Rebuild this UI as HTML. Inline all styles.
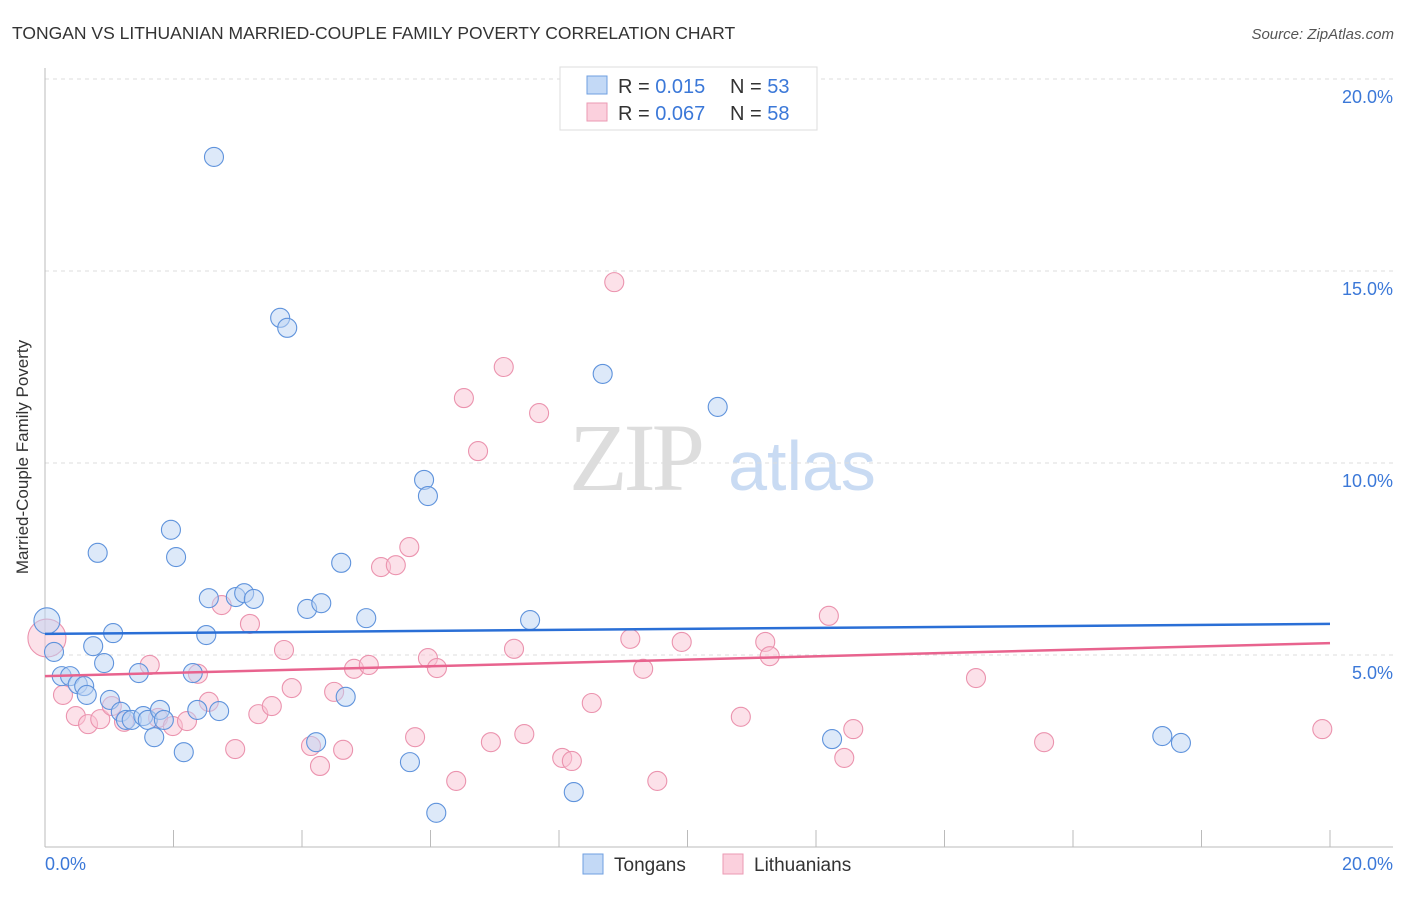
<!DOCTYPE html>
<html><head><meta charset="utf-8"><style>
body{margin:0;background:#fff;font-family:"Liberation Sans",sans-serif;}
</style></head><body>
<svg width="1406" height="892" xmlns="http://www.w3.org/2000/svg">
<text x="12" y="39" font-size="17.5" fill="#333">TONGAN VS LITHUANIAN MARRIED-COUPLE FAMILY POVERTY CORRELATION CHART</text>
<text x="1394" y="39" font-size="15" fill="#555" font-style="italic" text-anchor="end">Source: ZipAtlas.com</text>
<g>
<text x="635" y="490" font-size="96" fill="#ddd" font-family="Liberation Serif,serif" text-anchor="middle" letter-spacing="-4">ZIP</text>
<text x="802" y="490" font-size="70" fill="#c9dbf3" text-anchor="middle">atlas</text>
</g>
<g id="grid"></g>
<line x1="45" y1="68" x2="45" y2="847" stroke="#bbb"/>
<line x1="45" y1="847" x2="1393" y2="847" stroke="#bbb"/>
<text x="28" y="457" font-size="17" fill="#333" text-anchor="middle" transform="rotate(-90 28 457)">Married-Couple Family Poverty</text>
<text x="45" y="870" font-size="18" fill="#3b78d8">0.0%</text>
<text x="1393" y="870" font-size="18" fill="#3b78d8" text-anchor="end">20.0%</text>
<g id="pts"></g>
<g id="trends"></g>
<g>
<rect x="560" y="67" width="257" height="63" fill="#fff" stroke="#ddd"/>
<rect x="587" y="76" width="20" height="18" fill="#c3d9f6" stroke="#6f9fe0"/>
<rect x="587" y="103" width="20" height="18" fill="#fbd0dd" stroke="#eb9ab3"/>
<text x="618" y="93" font-size="20" fill="#333">R = <tspan fill="#3b78d8">0.015</tspan><tspan x="730">N = </tspan><tspan fill="#3b78d8">53</tspan></text>
<text x="618" y="120" font-size="20" fill="#333">R = <tspan fill="#3b78d8">0.067</tspan><tspan x="730">N = </tspan><tspan fill="#3b78d8">58</tspan></text>
</g>
<g>
<rect x="583" y="854" width="20" height="20" fill="#c3d9f6" stroke="#6f9fe0"/>
<text x="614" y="871" font-size="19" fill="#333">Tongans</text>
<rect x="723" y="854" width="20" height="20" fill="#fbd0dd" stroke="#eb9ab3"/>
<text x="754" y="871" font-size="19" fill="#333">Lithuanians</text>
</g>
</svg>
<script>
const yTicks=[5,10,15,20];
const xTicks=[2,4,6,8,10,12,14,16,18,20];
const tonganX=[0.03,0.14,0.26,0.39,0.51,0.61,0.65,0.75,0.82,0.92,1.01,1.06,1.18,1.26,1.35,1.46,1.53,1.60,1.70,1.79,1.85,1.96,2.04,2.16,2.30,2.37,2.51,2.55,2.71,2.63,2.97,3.10,3.25,3.66,3.77,4.08,4.22,4.30,4.61,4.68,5.00,5.68,5.90,5.96,6.09,7.55,8.23,8.68,10.47,12.25,17.39,17.68];
const tonganY=[5.89,5.08,4.45,4.45,4.24,4.19,3.96,5.23,7.66,4.79,3.83,5.57,3.52,3.31,3.31,4.53,3.41,3.31,2.86,3.57,3.31,8.26,7.55,2.47,4.53,3.57,5.52,6.48,3.54,17.97,6.51,6.61,6.46,13.78,13.52,6.20,2.73,6.35,7.40,3.91,5.96,2.21,9.56,9.14,0.89,5.91,1.43,12.32,11.46,2.81,2.89,2.71];
const lithX=[0.03,0.28,0.48,0.67,0.86,1.04,1.23,1.63,1.76,1.99,2.21,2.38,2.55,2.75,2.96,3.19,3.32,3.53,3.72,3.84,4.14,4.28,4.50,4.64,4.81,5.04,5.23,5.46,5.67,5.76,5.96,6.10,6.40,6.52,6.74,6.94,7.14,7.30,7.46,7.69,8.05,8.20,8.51,8.86,9.11,9.31,9.53,9.91,10.83,11.21,11.28,12.20,12.44,12.58,14.49,15.55,19.88];
const lithY=[5.44,3.96,3.41,3.20,3.33,3.67,3.26,4.74,3.36,3.15,3.28,4.51,3.78,6.30,2.55,5.81,3.46,3.67,5.13,4.14,2.63,2.11,4.04,2.53,4.64,4.74,7.29,7.34,7.81,2.86,4.92,4.66,1.72,11.69,10.31,2.73,12.50,5.16,2.94,11.30,2.32,2.24,3.75,14.71,5.42,4.64,1.72,5.34,3.39,5.34,4.97,6.02,2.32,3.07,4.40,2.73,3.07];
const tonganTrend=[5.55,5.81];
const lithTrend=[4.45,5.31];
const NS='http://www.w3.org/2000/svg';
const sx=v=>45+v*64.25, sy=v=>847-v*38.4;
function mk(t,a,p){const e=document.createElementNS(NS,t);for(const k in a)e.setAttribute(k,a[k]);p.appendChild(e);return e;}
const grid=document.getElementById('grid');
yTicks.forEach(t=>{
 const l=mk('line',{x1:45,x2:1393,y1:sy(t),y2:sy(t),stroke:'#ddd','stroke-dasharray':'4,4'},grid);
 
 
 const tx=mk('text',{x:1393,y:sy(t)+24,'font-size':18,fill:'#3b78d8','text-anchor':'end'},grid);
 tx.textContent=t.toFixed(1)+'%';
 
 
});
xTicks.forEach(t=>{
 const l=mk('line',{x1:sx(t),x2:sx(t),y1:830,y2:847,stroke:'#bbb'},grid);
 
 
});
const pts=document.getElementById('pts');
function drawPts(X,Y,fill,stroke,name,bigR){
 X.forEach((x,i)=>{
  const c=mk('circle',{cx:sx(x),cy:sy(Y[i]),r:i===0?bigR:9.5,fill:fill,'fill-opacity':0.5,stroke:stroke,'stroke-width':1.1},pts);
  
  
 });
}
drawPts(lithX,lithY,'#f9c4d4','#eb93ae','lithuanian-point',19);
drawPts(tonganX,tonganY,'#bcd4f3','#5f93dc','tongan-point',13);
const tr=document.getElementById('trends');
const a=mk('line',{x1:sx(0),x2:sx(20),y1:sy(tonganTrend[0]),y2:sy(tonganTrend[1]),stroke:'#2a6fd6','stroke-width':2.5},tr);


const b=mk('line',{x1:sx(0),x2:sx(20),y1:sy(lithTrend[0]),y2:sy(lithTrend[1]),stroke:'#e8638e','stroke-width':2.5},tr);


</script>
</body></html>
